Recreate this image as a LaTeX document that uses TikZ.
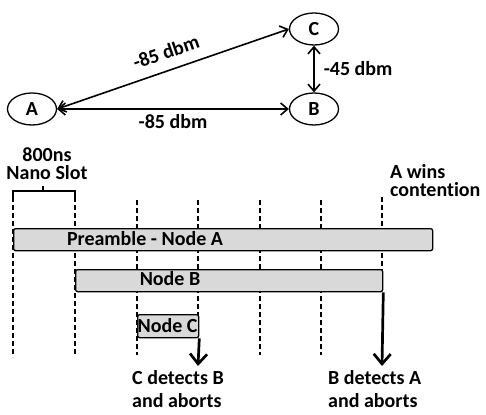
\documentclass[tikz,border=0pt]{standalone}
\usepackage{fontspec}
\setmainfont{Carlito}[Ligatures=NoCommon]
\usetikzlibrary{shapes.geometric,arrows.meta}
\begin{document}
\begin{tikzpicture}[x=1pt,y=-1pt,
  every node/.style={font=\fontsize{20}{23}\selectfont\bfseries},
  station/.style={ellipse,draw,line width=1.3pt,minimum width=49pt,minimum height=32pt,inner sep=0pt},
  link/.style={line width=1.6pt,{Straight Barb[length=7pt,width=12pt,line width=1.6pt]}-{Straight Barb[length=7pt,width=12pt,line width=1.6pt]}},
  slotline/.style={line width=1.3pt,dash pattern=on 5pt off 3pt},
  bar/.style={draw,line width=1.3pt,fill=black!15,rounded corners=2pt,inner sep=0pt,anchor=north west},
  detect/.style={line width=2.7pt,-{Straight Barb[length=10pt,width=17pt,line width=2.7pt]}},
  lbl/.style={inner sep=0pt}
]
\useasboundingbox (0,0) rectangle (486,414);
% stations
\node[station] (A) at (32,109) {A};
\node[station] (B) at (314,109) {B};
\node[station] (C) at (314,29) {C};
\draw[link] (A.east) -- (C.west);
\node[lbl,rotate=19] (lac) at (166,52) {-85 dbm};
\draw[link] (A.east) -- node[below=5pt,lbl] (lab) {-85 dbm} (B.west);
\draw[link] (C.south) -- node[right=9pt,lbl] (lcb) {-45 dbm} (B.north);
% slot lines
\draw[slotline] (13,197) -- (13,357);
\draw[slotline] (75,197) -- (75,355);
\foreach \x in {137,260,321} \draw[slotline] (\x,200) -- (\x,355);
\draw[slotline] (198,200) -- (198,316);
\draw[slotline] (382,197) -- (382,290);
% bracket
\draw[line width=1.3pt] (13,198) -- (13,191) -- (75,191) -- (75,198);
\draw[line width=1.3pt] (43,191) -- (43,186);
\node[lbl,align=center,font=\fontsize{20}{18}\selectfont\bfseries,anchor=north] (slot) at (47,147) {800ns\\Nano Slot};
\node[lbl,align=left,font=\fontsize{20}{18}\selectfont\bfseries,anchor=north west] (win) at (390,164) {A wins\\contention};
% bars
\node[bar,minimum width=419pt,minimum height=22pt] (pa) at (13,228) {};
\node[bar,minimum width=307pt,minimum height=22pt] (nb) at (75,269) {};
\node[bar,minimum width=61pt,minimum height=23pt] (nc) at (137,314) {};
\node[lbl,anchor=base] (tpa) at (145,245) {Preamble - Node A};
\node[lbl,anchor=base] (tnb) at (170,285) {Node B};
\node[lbl,anchor=base] (tnc) at (167.5,332) {Node C};
% detections
\coordinate (cend) at (198,366);
\coordinate (bend) at (382,366);
\draw[detect] (nc.south east) -- (cend);
\draw[detect] (nb.south east) -- (bend);
\node[lbl,align=left,anchor=north west] (cdet) at (132,370) {C detects B\\and aborts};
\node[lbl,align=left,anchor=north west] (bdet) at (328,370) {B detects A\\and aborts};
\end{tikzpicture}
\end{document}
